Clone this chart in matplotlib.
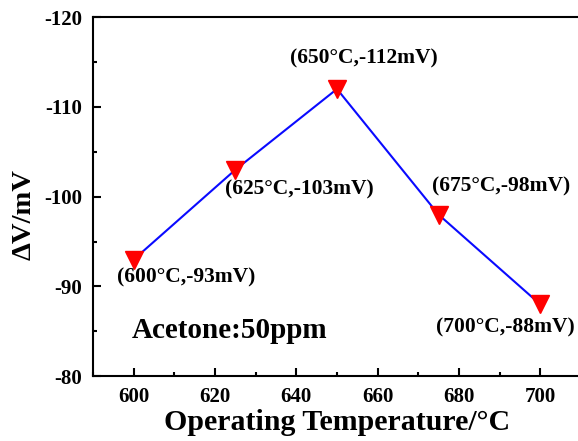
import matplotlib.pyplot as plt
from matplotlib.ticker import MultipleLocator

plt.rcParams.update({
    "font.family": "Liberation Serif",
    "font.weight": "bold",
    "axes.unicode_minus": False,
})

temps = [600, 625, 650, 675, 700]
dv = [-93, -103, -112, -98, -88]
point_labels = ['(600°C,-93mV)', '(625°C,-103mV)', '(650°C,-112mV)',
                '(675°C,-98mV)', '(700°C,-88mV)']
# label offsets in pixels from each point
offsets = [(52, -18), (64, -20), (27, 31), (63, 28), (-35, -23)]

fig = plt.figure(figsize=(5.78, 4.41), dpi=100)
ax = fig.add_axes([0.161, 0.147, 0.844, 0.814])

ax.plot(temps, dv, color='#0a0aff', lw=1.5, zorder=2)
ax.plot(temps, dv, linestyle='none', marker='v', ms=13, color='#ff0000', zorder=3)

for x, y, lab, off in zip(temps, dv, point_labels, offsets):
    ax.annotate(lab, (x, y), xytext=off, textcoords='offset pixels',
                ha='center', va='center', fontsize=15.5, fontweight='bold')

ax.text(623.6, -85.1, 'Acetone:50ppm', ha='center', va='center',
        fontsize=21, fontweight='bold')

ax.set_xlim(590, 710)
ax.set_ylim(-80, -120)
ax.xaxis.set_major_locator(MultipleLocator(20))
ax.xaxis.set_minor_locator(MultipleLocator(10))
ax.yaxis.set_major_locator(MultipleLocator(10))
ax.yaxis.set_minor_locator(MultipleLocator(5))
ax.tick_params(which='both', direction='in', width=1.5, labelsize=15)
ax.tick_params(which='major', length=6, pad=8)
ax.tick_params(which='minor', length=3)
for s in ax.spines.values():
    s.set_linewidth(1.5)

ax.set_xlabel('Operating Temperature/°C', fontsize=21.5, fontweight='bold', labelpad=1)
ax.set_ylabel('ΔV/mV', fontsize=20.5, fontweight='bold')
ax.yaxis.set_label_coords(-0.115, 0.45)

fig.savefig('out.png', dpi=100)
